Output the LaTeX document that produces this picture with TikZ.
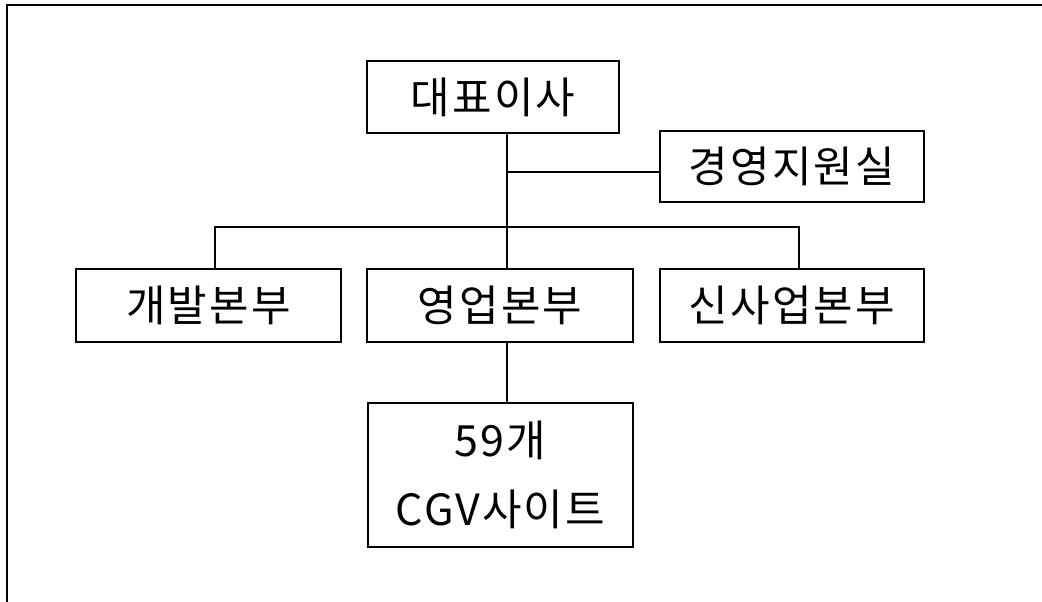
\documentclass[tikz,border=0pt]{standalone}
\usepackage{fontspec}
\newfontfamily\kr[LetterSpace=5]{Noto Sans CJK KR}
\begin{document}
\begin{tikzpicture}[x=1pt,y=-1pt,
  orgbox/.style={draw=black,line width=1.6pt,inner sep=0pt,font=\kr\fontsize{43}{47}\selectfont},
  link/.style={draw=black,line width=1.4pt},
  frameline/.style={draw=black,line width=2.6pt}]
\useasboundingbox (0,0) rectangle (1042,602);
\fill[white] (0,0) rectangle (1042,602);
\coordinate (ftl) at (7,5);
\coordinate (ftr) at (1042,5);
\coordinate (fbl) at (7,602);
\draw[frameline] (ftr) -- (ftl) -- (fbl);
% boxes
\node[orgbox,minimum width=252pt,minimum height=72pt] (ceo) at (493,97) {대표이사};
\node[orgbox,minimum width=264pt,minimum height=71pt] (staff) at (792,166.5) {경영지원실};
\node[orgbox,minimum width=265pt,minimum height=73pt] (dev) at (208.5,305.5) {개발본부};
\node[orgbox,minimum width=266pt,minimum height=73pt] (sales) at (500,305.5) {영업본부};
\node[orgbox,minimum width=264pt,minimum height=73pt] (newb) at (792,305.5) {신사업본부};
\node[orgbox,minimum width=265pt,minimum height=144pt,align=center] (cgv) at (500.5,475) {59개\\[22pt]CGV사이트};
% connectors
\coordinate (tt) at (507,133);
\coordinate (tb) at (507,269);
\coordinate (sj) at (507,172);
\coordinate (bj) at (507,227);
\coordinate (bl) at (215,227);
\coordinate (br) at (799,227);
\coordinate (cl) at (215,269);
\coordinate (cr) at (799,269);
\coordinate (st) at (507,342);
\coordinate (sb) at (507,403);
\draw[link] (tt) -- (tb);
\draw[link] (sj) -- (staff.west |- sj);
\draw[link] (cl) -- (bl) -- (br) -- (cr);
\draw[link] (st) -- (sb);
\end{tikzpicture}
\end{document}
